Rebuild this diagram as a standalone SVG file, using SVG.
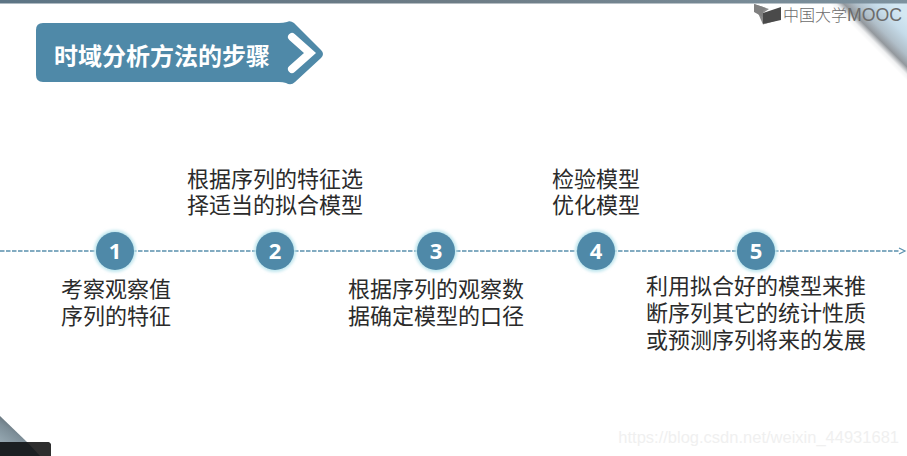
<svg xmlns="http://www.w3.org/2000/svg" width="907" height="456" viewBox="0 0 907 456">
<style>
.t{font-family:"Noto Sans CJK SC","Noto Sans",sans-serif;font-size:22px;fill:#2b2b2b;text-anchor:middle}
.c{fill:#4f89a8}
.g{fill:#bfe6ee;filter:url(#soft)}
.n{font-family:"Noto Sans",sans-serif;font-size:22px;font-weight:700;fill:#fff;text-anchor:middle}
.line{stroke:#5a90ad;stroke-width:1.5;stroke-dasharray:4.5 1.5;fill:none}
</style>
<defs>
<filter id="soft" x="-30%" y="-30%" width="160%" height="160%"><feGaussianBlur stdDeviation="1.500"/></filter>
<linearGradient id="top" x1="0" y1="0" x2="1" y2="0">
<stop offset="0" stop-color="#5d7585"/><stop offset="0.5" stop-color="#6d7c86"/><stop offset="1" stop-color="#7d929f"/>
</linearGradient>
<linearGradient id="fold" x1="858" y1="32" x2="890" y2="0" gradientUnits="userSpaceOnUse">
<stop offset="0" stop-color="#ffffff"/><stop offset="0.1" stop-color="#f0f1f2"/><stop offset="0.22" stop-color="#93989d"/><stop offset="0.4" stop-color="#b0bec8"/><stop offset="0.7" stop-color="#c6dcea"/><stop offset="1" stop-color="#d4e8f3"/>
</linearGradient>
<linearGradient id="bl" x1="0" y1="456" x2="22" y2="425" gradientUnits="userSpaceOnUse">
<stop offset="0" stop-color="#a9bcc6"/><stop offset="0.7" stop-color="#7d8e98"/><stop offset="1" stop-color="#5c6870"/>
</linearGradient>
</defs>
<rect width="907" height="456" fill="#fff"/>
<g id="decor">
<path d="M826 0H907V81Z" fill="url(#fold)"/>
<rect x="0" y="0" width="907" height="3.5" fill="url(#top)"/>
<path d="M0 416L27 442H0Z" fill="url(#bl)"/>
<path d="M0 442H47Q51 442 51 446V456H0Z" fill="#1b1f22"/>
<path d="M27 442H47Q51 442 51 446V456H40Z" fill="#2e2e2e"/>
</g>
<g id="logo">
<path d="M754 4L769 9L763 13V24L775 20V21L763 24.500Z" fill="#8a8a8a"/>
<path d="M754 4L766 8L763 11V17L754 12Z" fill="#808080"/>
<path d="M763 13L781 7V20L763 24Z" fill="#4a4a4a"/>
<text x="783" y="20.500" font-family="'Noto Sans CJK SC',sans-serif" font-size="16" font-weight="300" fill="#6b6b6b">中国大学</text>
<text x="847" y="21" font-family="'Liberation Sans',sans-serif" font-size="17.700" fill="#6b6b6b">MOOC</text>
</g>
<g id="title">
<path d="M43 23H279Q283 23 287 22Q290 20 294 23L321 50Q325 54 321 58L295 82Q291 86 286 83Q283 82 279 82H43Q36 82 36 75V30Q36 23 43 23Z" fill="#4f89a8"/>
<path d="M292 37L310 53L292 69" fill="none" stroke="#fff" stroke-width="8" stroke-linejoin="miter" stroke-linecap="round"/>
<text x="162" y="65" font-family="'Noto Sans CJK SC',sans-serif" font-size="24" font-weight="700" fill="#fff" text-anchor="middle">时域分析方法的步骤</text>
</g>
<g id="connectors">
<path class="line" d="M0 251H900"/>
<path d="M899 248L905 251L899 254" fill="none" stroke="#5a90ad" stroke-width="1.2"/>
</g>
<g id="node1"><circle class="g" cx="115" cy="251" r="21"/><circle class="c" cx="115" cy="251" r="19"/><text class="n" x="115" y="259">1</text></g>
<g id="node2"><circle class="g" cx="275" cy="251" r="21"/><circle class="c" cx="275" cy="251" r="19"/><text class="n" x="275" y="259">2</text></g>
<g id="node3"><circle class="g" cx="436" cy="251" r="21"/><circle class="c" cx="436" cy="251" r="19"/><text class="n" x="436" y="259">3</text></g>
<g id="node4"><circle class="g" cx="596" cy="251" r="21"/><circle class="c" cx="596" cy="251" r="19"/><text class="n" x="596" y="259">4</text></g>
<g id="node5"><circle class="g" cx="756" cy="251" r="21"/><circle class="c" cx="756" cy="251" r="19"/><text class="n" x="756" y="259">5</text></g>
<g id="labels">
<text class="t" x="116" y="297">考察观察值</text>
<text class="t" x="116" y="324">序列的特征</text>
<text class="t" x="275" y="187">根据序列的特征选</text>
<text class="t" x="275" y="213">择适当的拟合模型</text>
<text class="t" x="436" y="297">根据序列的观察数</text>
<text class="t" x="436" y="324">据确定模型的口径</text>
<text class="t" x="596" y="187">检验模型</text>
<text class="t" x="596" y="213">优化模型</text>
<text class="t" x="756" y="294">利用拟合好的模型来推</text>
<text class="t" x="756" y="321">断序列其它的统计性质</text>
<text class="t" x="756" y="348">或预测序列将来的发展</text>
</g>
<text id="watermark" x="899" y="443" font-family="'Liberation Sans',sans-serif" font-size="16.500" fill="#f0f0f0" text-anchor="end">https://blog.csdn.net/weixin_44931681</text>
</svg>
